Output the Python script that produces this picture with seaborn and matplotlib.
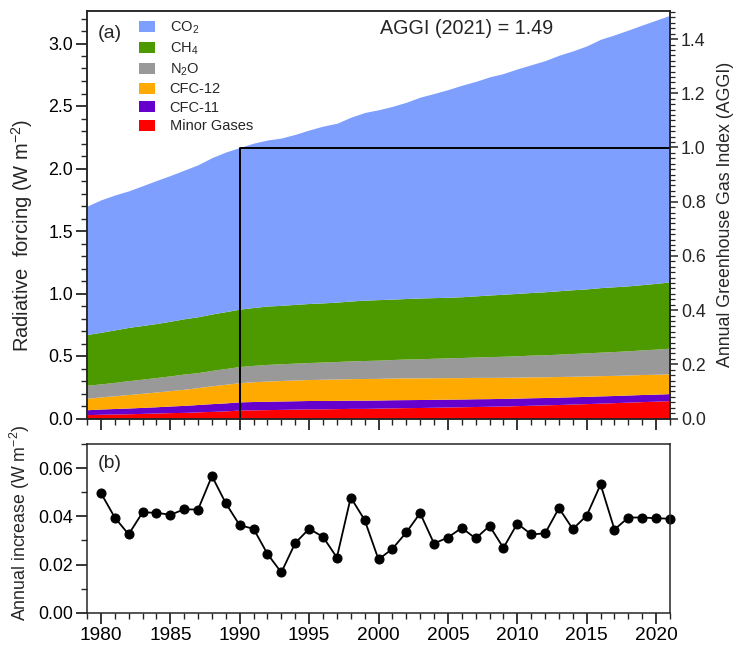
import matplotlib
matplotlib.use('Agg')
import matplotlib.pyplot as plt
import seaborn as sns
from matplotlib.ticker import MultipleLocator, FormatStrFormatter
from matplotlib.patches import Patch

# ---------------- data ----------------
years = list(range(1979, 2022))
co2 = [1.027, 1.059, 1.079, 1.092, 1.118, 1.144, 1.166, 1.189, 1.216, 1.251,
       1.277, 1.293, 1.315, 1.328, 1.339, 1.360, 1.388, 1.414, 1.431, 1.470,
       1.501, 1.519, 1.542, 1.570, 1.607, 1.633, 1.661, 1.692, 1.716, 1.745,
       1.766, 1.796, 1.822, 1.849, 1.884, 1.911, 1.944, 1.987, 2.015, 2.047,
       2.077, 2.106, 2.133]
ch4 = [0.406, 0.413, 0.420, 0.426, 0.429, 0.432, 0.437, 0.442, 0.447, 0.451,
       0.455, 0.459, 0.463, 0.467, 0.467, 0.470, 0.472, 0.473, 0.475, 0.479,
       0.483, 0.484, 0.483, 0.484, 0.486, 0.485, 0.485, 0.486, 0.489, 0.493,
       0.496, 0.499, 0.501, 0.504, 0.507, 0.510, 0.512, 0.516, 0.518, 0.519,
       0.522, 0.526, 0.530]
n2o = [0.104, 0.104, 0.107, 0.111, 0.113, 0.116, 0.118, 0.122, 0.120, 0.123,
       0.126, 0.129, 0.131, 0.133, 0.134, 0.135, 0.136, 0.138, 0.140, 0.142,
       0.144, 0.146, 0.148, 0.151, 0.153, 0.156, 0.158, 0.161, 0.163, 0.166,
       0.168, 0.171, 0.174, 0.176, 0.179, 0.182, 0.185, 0.188, 0.191, 0.194,
       0.197, 0.201, 0.205]
cfc12 = [0.092, 0.097, 0.102, 0.108, 0.113, 0.118, 0.123, 0.129, 0.135, 0.143,
         0.149, 0.154, 0.158, 0.162, 0.164, 0.166, 0.168, 0.170, 0.171, 0.172,
         0.173, 0.173, 0.174, 0.174, 0.173, 0.173, 0.172, 0.171, 0.171, 0.170,
         0.169, 0.168, 0.167, 0.166, 0.165, 0.164, 0.163, 0.162, 0.161, 0.160,
         0.160, 0.159, 0.159]
cfc11 = [0.039, 0.042, 0.044, 0.046, 0.048, 0.050, 0.053, 0.056, 0.059, 0.062,
         0.064, 0.065, 0.067, 0.067, 0.067, 0.067, 0.067, 0.067, 0.066, 0.066,
         0.066, 0.065, 0.065, 0.064, 0.064, 0.063, 0.063, 0.062, 0.062, 0.061,
         0.061, 0.060, 0.060, 0.059, 0.059, 0.058, 0.058, 0.058, 0.057, 0.057,
         0.057, 0.056, 0.056]
minor = [0.031, 0.034, 0.036, 0.038, 0.041, 0.044, 0.047, 0.049, 0.053, 0.057,
         0.061, 0.068, 0.069, 0.071, 0.073, 0.075, 0.077, 0.077, 0.079, 0.081,
         0.081, 0.083, 0.085, 0.087, 0.088, 0.090, 0.092, 0.094, 0.096, 0.098,
         0.100, 0.103, 0.106, 0.109, 0.112, 0.116, 0.119, 0.123, 0.127, 0.131,
         0.135, 0.139, 0.143]

gas_labels = ['CO$_2$', 'CH$_4$', 'N$_2$O', 'CFC-12', 'CFC-11', 'Minor Gases']
gas_colors = ['#7f9fff', '#4c9900', '#999999', '#ffaa00', '#6600cc', '#ff0000']

inc_years = list(range(1980, 2022))
increase = [0.0497, 0.0395, 0.0325, 0.0416, 0.0415, 0.0406, 0.0429, 0.0428, 0.0567, 0.0454,
            0.0363, 0.0348, 0.0244, 0.0167, 0.0289, 0.0348, 0.0315, 0.0229, 0.0478, 0.0385,
            0.0221, 0.0265, 0.0333, 0.0413, 0.0287, 0.0312, 0.0352, 0.0308, 0.0360, 0.0269,
            0.0370, 0.0325, 0.0329, 0.0434, 0.0347, 0.0403, 0.0532, 0.0345, 0.0395, 0.0395,
            0.0392, 0.0390]

base_year = 1990
aggi_text = 'AGGI (2021) = 1.49'

# ---------------- style ----------------
sns.set_theme(style='ticks')
plt.rcParams['font.family'] = ['Liberation Sans', 'DejaVu Sans']
plt.rcParams['mathtext.fontset'] = 'custom'
plt.rcParams['mathtext.rm'] = 'Liberation Sans'
plt.rcParams['mathtext.it'] = 'Liberation Sans:italic'
plt.rcParams['mathtext.bf'] = 'Liberation Sans:bold'
plt.rcParams['axes.linewidth'] = 1.1

W, H = 735, 646
fig = plt.figure(figsize=(W / 100, H / 100), dpi=100)
L, R = 87, 670
ax = fig.add_axes([L / W, 1 - 418.5 / H, (R - L) / W, (418.5 - 11) / H])
axb = fig.add_axes([L / W, 1 - 612.7 / H, (R - L) / W, (612.7 - 444) / H])
ax2 = ax.twinx()

# ---------------- top panel ----------------
stack = [minor, cfc11, cfc12, n2o, ch4, co2]
ax.stackplot(years, *stack, colors=gas_colors[::-1], linewidth=0)
i0 = years.index(base_year)
base = sum(s[i0] for s in stack)
ax.plot([base_year, base_year, years[-1]], [0, base, base], color='black', lw=1.4, zorder=5)

ytop = 3.26
ax.set_xlim(1979, 2021)
ax.set_ylim(0, ytop)
ax2.set_ylim(0, ytop / base)

for a in (ax, ax2):
    a.spines['top'].set_visible(True)
    a.spines['right'].set_visible(True)

ax.yaxis.set_major_locator(MultipleLocator(0.5))
ax.yaxis.set_minor_locator(MultipleLocator(0.1))
ax.yaxis.set_major_formatter(FormatStrFormatter('%.1f'))
ax.xaxis.set_major_locator(MultipleLocator(5))
ax.xaxis.set_minor_locator(MultipleLocator(1))
ax.tick_params(axis='both', which='major', direction='out', length=8, width=1.1,
               labelsize=12.8, pad=2, right=False, top=False, colors='black')
ax.tick_params(axis='both', which='minor', direction='out', length=4.5, width=1.0,
               right=False, top=False)
ax.tick_params(axis='x', labelbottom=False)

ax2.yaxis.set_major_locator(MultipleLocator(0.2))
ax2.yaxis.set_minor_locator(MultipleLocator(0.02))
ax2.yaxis.set_major_formatter(FormatStrFormatter('%.1f'))
ax2.tick_params(axis='y', which='major', direction='out', length=6, width=1.1,
                labelsize=12.8, pad=2)
ax2.tick_params(axis='y', which='minor', direction='out', length=3.5, width=0.9)

ax.set_ylabel('Radiative  forcing (W m$^{-2}$)', fontsize=14.5)
ax.yaxis.set_label_coords(-0.089, 0.45)
ax2.set_ylabel('Annual Greenhouse Gas Index (AGGI)', fontsize=12.8)
ax2.yaxis.set_label_coords(1.080, 0.5)

ax.text(0.019, 0.944, '(a)', transform=ax.transAxes, fontsize=14, va='center', ha='left')
ax.text(0.5026, 0.956, aggi_text, transform=ax.transAxes, fontsize=14.2, va='center', ha='left')

handles = [Patch(facecolor=c, edgecolor='none') for c in gas_colors]
ax.legend(handles, gas_labels, loc='upper left', bbox_to_anchor=(0.089, 0.979),
          frameon=False, fontsize=10.5, handlelength=1.1, handleheight=0.75,
          labelspacing=0.31, handletextpad=1.0, borderpad=0, borderaxespad=0)

# ---------------- bottom panel ----------------
sns.lineplot(x=inc_years, y=increase, ax=axb, color='black', marker='o',
             markersize=6.5, linewidth=1.3, markeredgecolor='black', clip_on=False)
axb.set_xlim(1979, 2021)
axb.set_ylim(0, 0.07)
axb.spines['top'].set_visible(True)
axb.spines['right'].set_visible(True)
axb.yaxis.set_major_locator(MultipleLocator(0.02))
axb.yaxis.set_minor_locator(MultipleLocator(0.01))
axb.yaxis.set_major_formatter(FormatStrFormatter('%.2f'))
axb.xaxis.set_major_locator(MultipleLocator(5))
axb.xaxis.set_minor_locator(MultipleLocator(1))
axb.tick_params(axis='both', which='major', direction='out', length=8, width=1.1,
                labelsize=12.8, pad=2, right=False, top=False, colors='black')
axb.tick_params(axis='x', which='major', labelsize=13.8)
axb.tick_params(axis='both', which='minor', direction='out', length=4.5, width=1.0,
                right=False, top=False)
axb.set_ylabel('Annual increase (W m$^{-2}$)', fontsize=12.8)
axb.yaxis.set_label_coords(-0.094, 0.53)
axb.set_xlabel('')
axb.text(0.019, 0.884, '(b)', transform=axb.transAxes, fontsize=14, va='center', ha='left')

fig.savefig('out.png', dpi=100)
